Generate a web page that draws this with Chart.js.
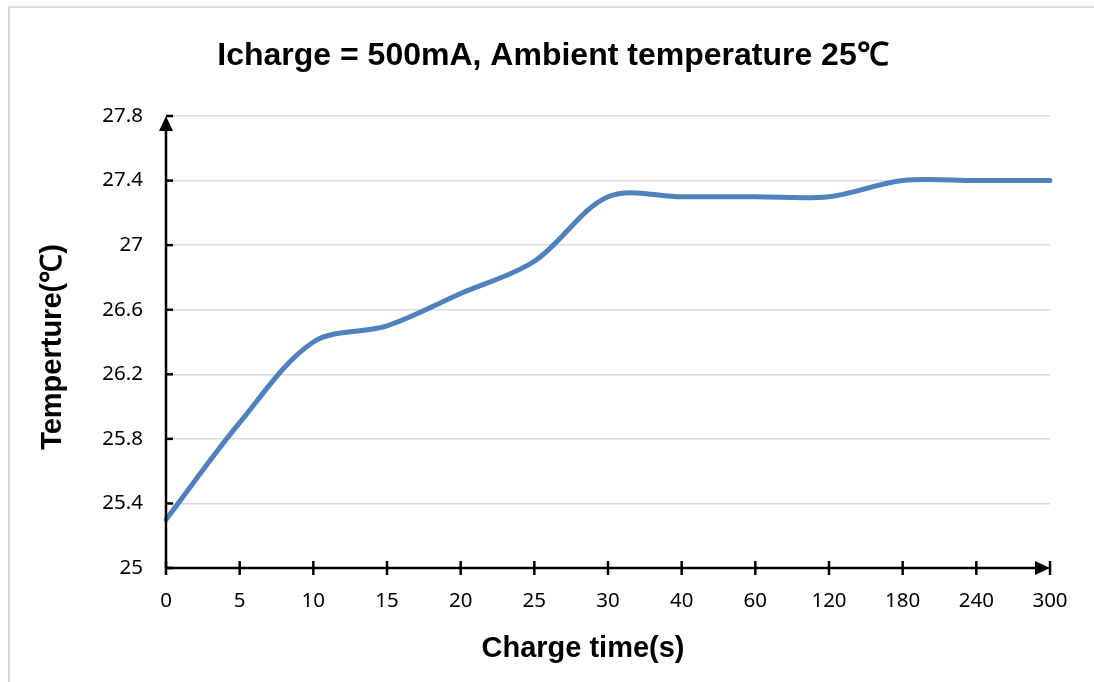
<!DOCTYPE html>
<html>
<head>
<meta charset="utf-8">
<title>Icharge 500mA</title>
<script src="https://cdn.jsdelivr.net/npm/chart.js@4.4.1/dist/chart.umd.min.js"></script>
<style>
    html, body { margin: 0; padding: 0; background: #fff; }
    #wrap { width: 1094px; height: 682px; }
</style>
</head>
<body>
<div id="wrap"><canvas id="chartTemp" width="1094" height="682"></canvas></div>
<script>
// ===== Datos =====
const tiempos = ['0', '5', '10', '15', '20', '25', '30', '40', '60', '120', '180', '240', '300'];
const temperaturas = [25.3, 25.9, 26.4, 26.5, 26.7, 26.9, 27.3, 27.3, 27.3, 27.3, 27.4, 27.4, 27.4];
const yMin = 25;
const yMax = 27.8;
const yPaso = 0.4;

const tituloGrafico = 'Icharge = 500mA, Ambient temperature 25\u2103';
const tituloX = 'Charge time(s)';
const tituloY = 'Temperture(\u2103)';

const fuenteTitulo = 'bold 32px "Liberation Sans", Arial, sans-serif';
const fuenteEje = 'bold 29px "Liberation Sans", Arial, sans-serif';
const fuenteTicks = { family: '"Noto Sans", sans-serif', size: 20.5 };

// Marco gris, titulo, ejes con flechas y titulos de ejes
const ejesPlugin = {
    id: 'ejesPlugin',
    beforeDraw(chart) {
        const c = chart.ctx;
        c.save();
        c.fillStyle = '#fff';
        c.fillRect(0, 0, chart.width, chart.height);
        c.strokeStyle = '#d9d9d9';
        c.lineWidth = 2;
        c.strokeRect(9, 7, chart.width + 40, chart.height + 40);
        c.restore();
    },
    afterDatasetsDraw(chart) {
        const c = chart.ctx;
        const x = chart.scales.x;
        const y = chart.scales.y;
        const x0 = x.left, x1 = x.right, y0 = y.bottom, y1 = y.top;
        c.save();
        c.strokeStyle = '#000';
        c.fillStyle = '#000';
        c.lineWidth = 2.5;

        // eje Y
        c.beginPath();
        c.moveTo(x0, y0);
        c.lineTo(x0, y1 + 12);
        c.stroke();
        c.beginPath();
        c.moveTo(x0, y1);
        c.lineTo(x0 - 7, y1 + 15);
        c.lineTo(x0 + 7, y1 + 15);
        c.closePath();
        c.fill();
        y.ticks.forEach(t => {
            const py = y.getPixelForValue(t.value);
            c.beginPath();
            c.moveTo(x0, py);
            c.lineTo(x0 + 7, py);
            c.stroke();
        });

        // eje X
        c.beginPath();
        c.moveTo(x0, y0);
        c.lineTo(x1 - 12, y0);
        c.stroke();
        c.beginPath();
        c.moveTo(x1, y0);
        c.lineTo(x1 - 15, y0 - 7);
        c.lineTo(x1 - 15, y0 + 7);
        c.closePath();
        c.fill();
        tiempos.forEach((t, i) => {
            const px = x.getPixelForValue(i);
            c.beginPath();
            c.moveTo(px, y0 - 7);
            c.lineTo(px, y0 + 7);
            c.stroke();
        });

        // titulos
        c.textAlign = 'center';
        c.textBaseline = 'middle';
        c.font = fuenteTitulo;
        c.fillText(tituloGrafico, 553, 56);
        c.font = fuenteEje;
        c.fillText(tituloX, 583, 649);
        c.translate(53, 347);
        c.rotate(-Math.PI / 2);
        c.fillText(tituloY, 0, 0);
        c.restore();
    }
};

const ctx = document.getElementById('chartTemp').getContext('2d');
const chartTemp = new Chart(ctx, {
    type: 'line',
    data: {
        labels: tiempos,
        datasets: [{
            label: 'Temperatura',
            data: temperaturas,
            borderColor: '#4f81bd',
            backgroundColor: '#4f81bd',
            borderWidth: 5,
            borderCapStyle: 'round',
            borderJoinStyle: 'round',
            pointRadius: 0,
            pointHoverRadius: 0,
            tension: 0.33,
            fill: false
        }]
    },
    options: {
        responsive: false,
        animation: false,
        devicePixelRatio: 1,
        layout: { padding: { left: 0, right: 44, top: 116, bottom: 0 } },
        plugins: {
            legend: { display: false },
            tooltip: { enabled: false },
            title: { display: false }
        },
        scales: {
            x: {
                type: 'category',
                offset: false,
                grid: { display: false, drawTicks: false },
                border: { display: false },
                ticks: {
                    color: '#000',
                    padding: 21,
                    maxRotation: 0,
                    autoSkip: false,
                    font: fuenteTicks
                },
                afterFit: s => { s.height = 114; }
            },
            y: {
                min: yMin,
                max: yMax,
                grid: { color: '#d9d9d9', lineWidth: 1.5, drawTicks: false },
                border: { display: false },
                ticks: {
                    stepSize: yPaso,
                    color: '#000',
                    padding: 23,
                    font: fuenteTicks,
                    callback: v => String(Math.round(v * 10) / 10)
                },
                afterFit: s => { s.width = 166; }
            }
        }
    },
    plugins: [ejesPlugin]
});
</script>
</body>
</html>
